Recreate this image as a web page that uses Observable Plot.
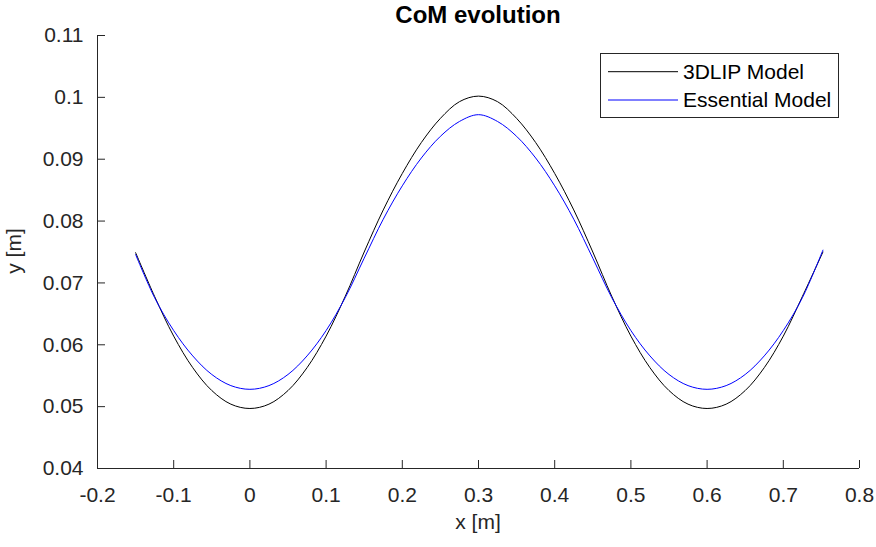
<!DOCTYPE html>
<html>
<head>
<meta charset="utf-8">
<script src="https://cdn.jsdelivr.net/npm/d3@7"></script>
<script src="https://cdn.jsdelivr.net/npm/@observablehq/plot@0.6"></script>
<style>
  html, body { margin: 0; padding: 0; background: #fff; }
  #fig { position: relative; width: 876px; height: 547px; }
</style>
</head>
<body>
<div id="fig"></div>
<script>
// ---- data ----
const xs = [-0.15, -0.125, -0.1, -0.075, -0.05, -0.025, 0, 0.025, 0.05, 0.075, 0.1, 0.125, 0.15,
            0.175, 0.2, 0.225, 0.25, 0.275, 0.3, 0.325, 0.35, 0.375, 0.4, 0.425, 0.45,
            0.475, 0.5, 0.525, 0.55, 0.575, 0.6, 0.625, 0.65, 0.675, 0.7, 0.725, 0.752];
const lip3d = [0.0749, 0.0678, 0.0614, 0.0563, 0.0526, 0.0504, 0.0497, 0.0504, 0.0526, 0.0563, 0.0614, 0.0678, 0.0750,
               0.0818, 0.0877, 0.0927, 0.0966, 0.0993, 0.1002, 0.0993, 0.0966, 0.0927, 0.0877, 0.0818, 0.0750,
               0.0678, 0.0614, 0.0563, 0.0526, 0.0504, 0.0497, 0.0504, 0.0526, 0.0563, 0.0614, 0.0678, 0.0750];
const essential = [0.0746, 0.0676, 0.0623, 0.0582, 0.0552, 0.0534, 0.0528, 0.0534, 0.0552, 0.0582, 0.0623, 0.0676, 0.0740,
                   0.0803, 0.0857, 0.0902, 0.0937, 0.0961, 0.0972, 0.0961, 0.0937, 0.0902, 0.0857, 0.0803, 0.0740,
                   0.0676, 0.0623, 0.0582, 0.0552, 0.0534, 0.0528, 0.0534, 0.0552, 0.0582, 0.0623, 0.0676, 0.0753];
const seriesNames = ["3DLIP Model", "Essential Model"];
const seriesColors = ["#000000", "#0000ff"];
const xTicks = [-0.2, -0.1, 0, 0.1, 0.2, 0.3, 0.4, 0.5, 0.6, 0.7, 0.8];
const xTickLabels = ["-0.2", "-0.1", "0", "0.1", "0.2", "0.3", "0.4", "0.5", "0.6", "0.7", "0.8"];
const yTicks = [0.04, 0.05, 0.06, 0.07, 0.08, 0.09, 0.1, 0.11];
const yTickLabels = ["0.04", "0.05", "0.06", "0.07", "0.08", "0.09", "0.1", "0.11"];
const titleText = "CoM evolution";
const xLabel = "x [m]";
const yLabel = "y [m]";

const rowsA = xs.map((x, i) => ({x, y: lip3d[i]}));
const rowsB = xs.map((x, i) => ({x, y: essential[i]}));

const axisColor = "#262626";
const FONT = "'Liberation Sans', Arial, Helvetica, sans-serif";

const W = 876, H = 547;
const mL = 97, mR = 17, mT = 35, mB = 79;

const plot = Plot.plot({
  width: W,
  height: H,
  marginLeft: mL,
  marginRight: mR,
  marginTop: mT,
  marginBottom: mB,
  style: {fontFamily: FONT, fontSize: "21px", color: axisColor, background: "#fff", overflow: "visible"},
  x: {domain: [-0.2, 0.8], label: null},
  y: {domain: [0.04, 0.11], label: null},
  marks: [
    Plot.axisX({ticks: xTicks, tickFormat: (d, i) => xTickLabels[i], tickSize: -8, tickPadding: 27,
                fontSize: 21, stroke: axisColor, fill: axisColor, label: null}),
    Plot.axisY({ticks: yTicks, tickFormat: (d, i) => yTickLabels[i], tickSize: -8, tickPadding: 22,
                fontSize: 21, stroke: axisColor, fill: axisColor, label: null}),
    Plot.ruleY([0.04], {stroke: axisColor, strokeWidth: 1}),
    Plot.ruleX([-0.2], {stroke: axisColor, strokeWidth: 1}),
    Plot.line(rowsA, {x: "x", y: "y", stroke: seriesColors[0], strokeWidth: 1, curve: "catmull-rom"}),
    Plot.line(rowsB, {x: "x", y: "y", stroke: seriesColors[1], strokeWidth: 1, curve: "catmull-rom"})
  ]
});

document.getElementById("fig").appendChild(plot);

const svg = d3.select(plot);
const cx = mL + (W - mL - mR) / 2;

// title
svg.append("text").attr("x", cx).attr("y", 22.7).attr("text-anchor", "middle")
  .attr("font-family", FONT).attr("font-size", 24).attr("font-weight", "bold").attr("fill", "#000")
  .text(titleText);
// x label
svg.append("text").attr("x", cx).attr("y", 529).attr("text-anchor", "middle")
  .attr("font-family", FONT).attr("font-size", 21).attr("fill", axisColor)
  .text(xLabel);
// y label
svg.append("text").attr("transform", "translate(20.7,251) rotate(-90)").attr("text-anchor", "middle")
  .attr("font-family", FONT).attr("font-size", 21).attr("fill", axisColor)
  .text(yLabel);

// legend
const lg = svg.append("g");
lg.append("rect").attr("x", 600.5).attr("y", 53.5).attr("width", 238).attr("height", 64)
  .attr("fill", "#fff").attr("stroke", axisColor).attr("stroke-width", 1);
const rowY = [71.7, 100];
seriesNames.forEach((name, i) => {
  lg.append("line").attr("x1", 608).attr("x2", 678).attr("y1", rowY[i]).attr("y2", rowY[i])
    .attr("stroke", seriesColors[i]).attr("stroke-width", 1);
  lg.append("text").attr("x", 683).attr("y", rowY[i]).attr("dy", "0.35em").attr("text-anchor", "start")
    .attr("font-family", FONT).attr("font-size", 21).attr("fill", "#000").text(name);
});
</script>
</body>
</html>
